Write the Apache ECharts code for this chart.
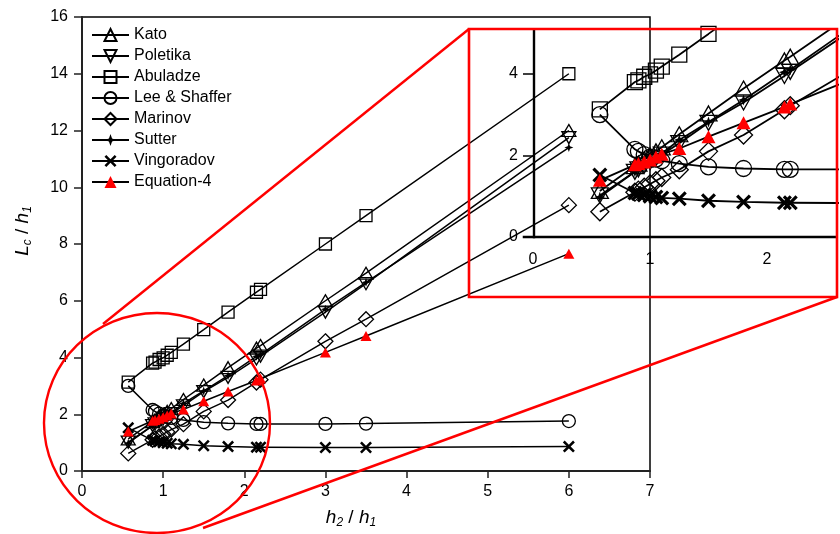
<!DOCTYPE html>
<html>
<head>
<meta charset="utf-8">
<script src="https://cdn.jsdelivr.net/npm/echarts@6/dist/echarts.min.js"></script>
<style>
  html, body { margin: 0; padding: 0; background: #fff; }
  #chart { width: 840px; height: 534px; }
</style>
</head>
<body>
<div id="chart"></div>
<script>
// h2/h1 ratios shared by every correlation
const ratio = [0.57, 0.87, 0.9, 0.95, 1.0, 1.05, 1.1, 1.25, 1.5, 1.8, 2.15, 2.2, 3.0, 3.5, 6.0];

// Lc/h1 predicted by each correlation
const kato       = [1.13, 1.74, 1.8, 1.9, 2.0, 2.1, 2.2, 2.52, 3.03, 3.64, 4.33, 4.42, 6.0, 6.97, 12.0];
const poletika   = [1.02, 1.6, 1.66, 1.75, 1.84, 1.93, 2.02, 2.3, 2.8, 3.3, 3.95, 4.05, 5.6, 6.6, 11.75];
const abuladze   = [3.13, 3.8, 3.84, 3.93, 3.99, 4.08, 4.18, 4.47, 4.98, 5.6, 6.3, 6.4, 8.0, 9.0, 14.0];
const leeShaffer = [3.0, 2.15, 2.1, 2.02, 1.96, 1.91, 1.87, 1.8, 1.72, 1.68, 1.66, 1.66, 1.66, 1.67, 1.76];
const marinov    = [0.62, 1.1, 1.15, 1.22, 1.3, 1.38, 1.46, 1.65, 2.1, 2.5, 3.12, 3.22, 4.57, 5.35, 9.37];
const sutter     = [0.98, 1.6, 1.65, 1.75, 1.85, 1.95, 2.05, 2.38, 2.82, 3.36, 4.04, 4.1, 5.7, 6.65, 11.4];
const vingoradov = [1.52, 1.08, 1.06, 1.03, 1.0, 0.98, 0.96, 0.94, 0.89, 0.86, 0.84, 0.84, 0.83, 0.83, 0.86];
const equation4  = [1.39, 1.77, 1.8, 1.84, 1.89, 1.96, 2.03, 2.17, 2.46, 2.8, 3.19, 3.26, 4.18, 4.76, 7.66];

// axis ticks
const mainXTicks = [0, 1, 2, 3, 4, 5, 6, 7];
const mainYTicks = [0, 2, 4, 6, 8, 10, 12, 14, 16];
const zoomXTicks = [0, 1, 2];
const zoomYTicks = [0, 2, 4];

const FONT = "'Liberation Sans', Arial, Helvetica, sans-serif";
const HOLLOW = 'rgba(0,0,0,0)';
const DOWN_TRI = 'path://M0,0 L10,0 L5,9 Z';
const STAR4 = 'path://M0,-10 L2.6,-2.6 L10,0 L2.6,2.6 L0,10 L-2.6,2.6 L-10,0 L-2.6,-2.6 Z';
const CROSS = 'path://M-10,-7 L-7,-10 L0,-3 L7,-10 L10,-7 L3,0 L10,7 L7,10 L0,3 L-7,10 L-10,7 L-3,0 Z';

const defs = [
  { name: 'Kato',          ys: kato,       symbol: 'triangle', size: [14, 12], zsize: [17, 15], fill: HOLLOW, border: '#000' },
  { name: 'Poletika',      ys: poletika,   symbol: DOWN_TRI,   size: [14, 12], zsize: [17, 15], fill: HOLLOW, border: '#000' },
  { name: 'Abuladze',      ys: abuladze,   symbol: 'rect',     size: 12,       zsize: 15,       fill: HOLLOW, border: '#000' },
  { name: 'Lee & Shaffer', ys: leeShaffer, symbol: 'circle',   size: 13,       zsize: 16,       fill: HOLLOW, border: '#000' },
  { name: 'Marinov',       ys: marinov,    symbol: 'diamond',  size: 15,       zsize: 18,       fill: HOLLOW, border: '#000' },
  { name: 'Sutter',        ys: sutter,     symbol: STAR4,      size: 9,        zsize: 11,       fill: '#000', border: null },
  { name: 'Vingoradov',    ys: vingoradov, symbol: CROSS,      size: 12,       zsize: 15,       fill: '#000', border: null },
  { name: 'Equation-4',    ys: equation4,  symbol: 'triangle', size: [11, 10], zsize: [14, 13], fill: '#ff0000', border: null }
];

function pairs(ys) { return ratio.map((x, i) => [x, ys[i]]); }

function buildSeries(def, gridIdx) {
  const inset = gridIdx === 1;
  return {
    name: def.name,
    type: 'line',
    xAxisIndex: gridIdx,
    yAxisIndex: gridIdx,
    data: pairs(def.ys),
    symbol: def.symbol,
    symbolSize: inset ? def.zsize : def.size,
    showAllSymbol: true,
    clip: true,
    animation: false,
    z: def.name === 'Equation-4' ? 4 : 3,
    lineStyle: { color: '#000', width: inset ? 1.8 : 1.5 },
    itemStyle: {
      color: def.fill,
      borderColor: def.border || def.fill,
      borderWidth: def.border ? 1.3 : 0
    },
    emphasis: { disabled: true }
  };
}

const series = [];
defs.forEach(d => series.push(buildSeries(d, 0)));
defs.forEach(d => series.push(buildSeries(d, 1)));

// axis lines of the magnified view, placed through its own scales
series.push({
  name: 'inset-axes',
  type: 'line',
  xAxisIndex: 1,
  yAxisIndex: 1,
  data: [],
  animation: false,
  markLine: {
    silent: true,
    symbol: 'none',
    animation: false,
    label: { show: false },
    data: [
      [{ coord: [0, -0.03], lineStyle: { color: '#000', width: 2.4, type: 'solid' } }, { coord: [0, 5.1] }],
      [{ coord: [-0.09, 0], lineStyle: { color: '#000', width: 2.4, type: 'solid' } }, { coord: [2.6, 0] }]
    ]
  }
});

const nameRich = {
  i: { fontFamily: FONT, fontSize: 19, fontStyle: 'italic', color: '#000' },
  s: { fontFamily: FONT, fontSize: 12, fontStyle: 'italic', color: '#000', verticalAlign: 'bottom', padding: [10, 0, 0, 0] },
  n: { fontFamily: FONT, fontSize: 19, color: '#000' }
};

const chart = echarts.init(document.getElementById('chart'), null, { renderer: 'canvas' });

chart.setOption({
  backgroundColor: '#fff',
  animation: false,
  textStyle: { fontFamily: FONT },
  legend: {
    data: defs.map(d => d.name),
    orient: 'vertical',
    left: 86,
    top: 22,
    itemWidth: 37,
    itemHeight: 15,
    itemGap: 5,
    selectedMode: false,
    textStyle: { fontFamily: FONT, fontSize: 16, color: '#000' }
  },
  grid: [
    { left: 82, top: 17, width: 568, height: 454, show: true, borderColor: '#000', borderWidth: 1.5, backgroundColor: 'transparent' },
    { left: 469, top: 29, width: 368, height: 268, show: false },
    { left: 533, top: 29, width: 304, height: 208, show: false }
  ],
  xAxis: [
    {
      type: 'value', gridIndex: 0, min: 0, max: 7, interval: 1,
      name: '{i|h}{s|2}{n| / }{i|h}{s|1}',
      nameLocation: 'middle', nameGap: 36,
      nameTextStyle: { rich: nameRich, padding: [0, 30, 0, 0] },
      axisLine: { onZero: false, lineStyle: { color: '#222', width: 2 } },
      axisTick: { inside: false, length: 7, lineStyle: { color: '#222', width: 1.5 } },
      axisLabel: { customValues: mainXTicks, fontSize: 16, color: '#000', margin: 13, fontFamily: FONT },
      splitLine: { show: false }
    },
    {
      type: 'value', gridIndex: 1, min: -0.55, max: 2.6,
      show: false
    },
    {
      type: 'value', gridIndex: 2, min: 0, max: 2.6, position: 'bottom',
      axisLine: { show: false, onZero: false },
      axisTick: { show: false },
      axisLabel: { customValues: zoomXTicks, fontSize: 16, color: '#000', margin: 15, fontFamily: FONT },
      splitLine: { show: false }
    }
  ],
  yAxis: [
    {
      type: 'value', gridIndex: 0, min: 0, max: 16, interval: 2,
      name: '{i|L}{s|c}{n| / }{i|h}{s|1}',
      nameLocation: 'middle', nameGap: 48, nameRotate: 90,
      nameTextStyle: { rich: nameRich, padding: [0, 0, 0, 26] },
      axisLine: { onZero: false, lineStyle: { color: '#222', width: 2 } },
      axisTick: { inside: false, length: 8, lineStyle: { color: '#222', width: 1.5 } },
      axisLabel: { customValues: mainYTicks, fontSize: 16, color: '#000', margin: 14, fontFamily: FONT },
      splitLine: { show: false }
    },
    {
      type: 'value', gridIndex: 1, min: -1.47, max: 5.1,
      show: false
    },
    {
      type: 'value', gridIndex: 2, min: 0, max: 5.1, position: 'left',
      axisLine: { show: false, onZero: false },
      axisTick: { show: true, customValues: zoomYTicks, inside: false, length: 10, lineStyle: { color: '#000', width: 1.5 } },
      axisLabel: { customValues: zoomYTicks, fontSize: 16, color: '#000', margin: 15, fontFamily: FONT },
      splitLine: { show: false }
    }
  ],
  series: series,
  graphic: [
    { type: 'ellipse', z: 100, silent: true, shape: { cx: 157, cy: 423, rx: 113, ry: 110 }, style: { fill: 'none', stroke: '#ff0000', lineWidth: 2.4 } },
    { type: 'line', z: 100, silent: true, shape: { x1: 103, y1: 324, x2: 469, y2: 29 }, style: { stroke: '#ff0000', lineWidth: 2.4 } },
    { type: 'line', z: 100, silent: true, shape: { x1: 203, y1: 528, x2: 837, y2: 297 }, style: { stroke: '#ff0000', lineWidth: 2.4 } },
    { type: 'rect', z: 100, silent: true, shape: { x: 469, y: 29, width: 368, height: 268 }, style: { fill: 'none', stroke: '#ff0000', lineWidth: 2.6 } }
  ]
});
</script>
</body>
</html>
